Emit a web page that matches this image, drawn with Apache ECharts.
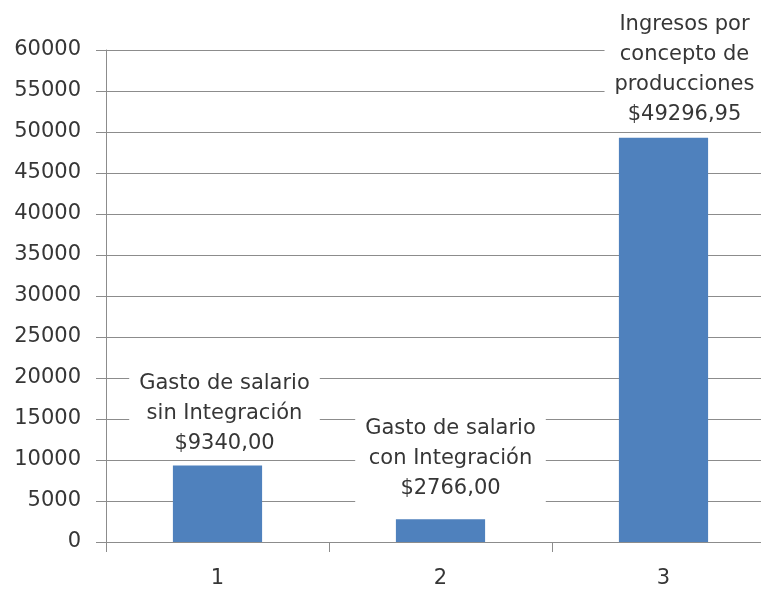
<!DOCTYPE html>
<html>
<head>
<meta charset="utf-8">
<script src="https://cdn.jsdelivr.net/npm/echarts@6/dist/echarts.min.js"></script>
<style>
html,body{margin:0;padding:0;background:#fff;}
#chart{width:761px;height:589px;}
</style>
</head>
<body>
<div id="chart"></div>
<script>
var categories = ['1', '2', '3'];
var values = [9340, 2766, 49296.95];
var labelTexts = [
  'Gasto de salario\nsin Integración\n$9340,00',
  'Gasto de salario\ncon Integración\n$2766,00',
  'Ingresos por\nconcepto de\nproducciones\n$49296,95'
];
var yTicks = {min: 0, max: 60000, interval: 5000};

var labelOffsets = [[7, 0], [10, 0], [21, 0]];
var labelDistances = [7, 16, 8];

var chart = echarts.init(document.getElementById('chart'), null, {renderer: 'canvas'});
var axisColor = '#8c8c8c';
var textColor = '#363636';
var font = 'DejaVu Sans';

var dataItems = values.map(function (v, i) {
  return {
    value: v,
    label: {
      formatter: labelTexts[i],
      offset: labelOffsets[i],
      distance: labelDistances[i]
    }
  };
});

chart.setOption({
  animation: false,
  backgroundColor: '#fff',
  grid: {left: 106, top: 50, width: 669, height: 492, containLabel: false, outerBoundsMode: 'none'},
  xAxis: {
    type: 'category',
    data: categories,
    boundaryGap: true,
    axisLine: {show: true, lineStyle: {color: axisColor, width: 1}},
    axisTick: {show: true, length: 10, alignWithLabel: false, lineStyle: {color: axisColor}},
    axisLabel: {color: textColor, fontFamily: font, fontSize: 21, margin: 26},
    splitLine: {show: false}
  },
  yAxis: {
    type: 'value',
    min: yTicks.min,
    max: yTicks.max,
    interval: yTicks.interval,
    axisLine: {show: true, lineStyle: {color: axisColor, width: 1}},
    axisTick: {show: true, length: 10, lineStyle: {color: axisColor}},
    axisLabel: {
      color: textColor, fontFamily: font, fontSize: 21, margin: 25,
      formatter: function (v) { return String(v); }
    },
    splitLine: {show: true, lineStyle: {color: axisColor, width: 1}}
  },
  series: [{
    type: 'bar',
    data: dataItems,
    barWidth: '40%',
    itemStyle: {color: '#4F81BD'},
    label: {
      show: true,
      position: 'top',
      color: textColor,
      fontFamily: font,
      fontSize: 21,
      lineHeight: 30,
      align: 'center',
      backgroundColor: '#fff',
      padding: [4, 10, 0, 10]
    }
  }]
});
</script>
</body>
</html>
